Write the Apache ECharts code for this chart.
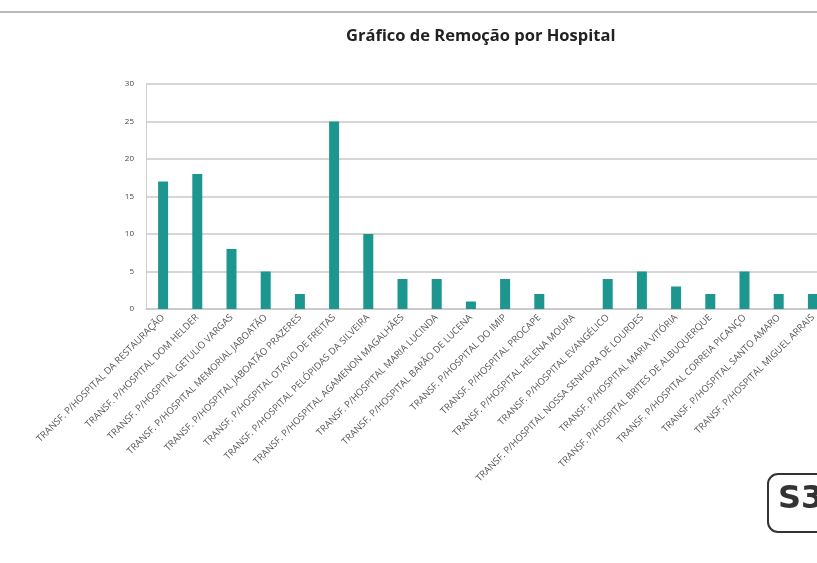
<!DOCTYPE html>
<html>
<head>
<meta charset="utf-8">
<script src="https://cdn.jsdelivr.net/npm/echarts@6/dist/echarts.min.js"></script>
<style>
  html, body { margin: 0; padding: 0; background: #fff; }
  #chart { width: 817px; height: 563px; }
</style>
</head>
<body>
<div id="chart"></div>
<script>
const hospitals = [
  'TRANSF. P/HOSPITAL DA RESTAURAÇÃO',
  'TRANSF. P/HOSPITAL DOM HELDER',
  'TRANSF. P/HOSPITAL GETULIO VARGAS',
  'TRANSF. P/HOSPITAL MEMORIAL JABOATÃO',
  'TRANSF. P/HOSPITAL JABOATÃO PRAZERES',
  'TRANSF. P/HOSPITAL OTAVIO DE FREITAS',
  'TRANSF. P/HOSPITAL PELÓPIDAS DA SILVEIRA',
  'TRANSF. P/HOSPITAL AGAMENON MAGALHÃES',
  'TRANSF. P/HOSPITAL MARIA LUCINDA',
  'TRANSF. P/HOSPITAL BARÃO DE LUCENA',
  'TRANSF. P/HOSPITAL DO IMIP',
  'TRANSF. P/HOSPITAL PROCAPE',
  'TRANSF. P/HOSPITAL HELENA MOURA',
  'TRANSF. P/HOSPITAL EVANGÉLICO',
  'TRANSF. P/HOSPITAL NOSSA SENHORA DE LOURDES',
  'TRANSF. P/HOSPITAL MARIA VITÓRIA',
  'TRANSF. P/HOSPITAL BRITES DE ALBUQUERQUE',
  'TRANSF. P/HOSPITAL CORREIA PICANÇO',
  'TRANSF. P/HOSPITAL SANTO AMARO',
  'TRANSF. P/HOSPITAL MIGUEL ARRAIS'
];
const remocoes = [17, 18, 8, 5, 2, 25, 10, 4, 4, 1, 4, 2, 0, 4, 5, 3, 2, 5, 2, 2];

let chart = echarts.init(document.getElementById('chart'));

let option = {
    animation: false,
    title: {
        text: 'Gráfico de Remoção por Hospital',
        left: 341,
        top: 23,
        textStyle: {
            fontFamily: 'Open Sans',
            fontSize: 16.5,
            fontWeight: 'bold',
            color: '#222'
        }
    },
    graphic: [
        {
            type: 'line',
            shape: { x1: 0, y1: 12, x2: 817, y2: 12 },
            style: { stroke: '#bbb', lineWidth: 2 }
        },
        // logo no canto inferior direito
        {
            type: 'rect',
            shape: { x: 768, y: 474, width: 64, height: 58, r: 10 },
            style: { fill: 'none', stroke: '#333', lineWidth: 2 }
        },
        {
            type: 'text',
            left: 778,
            top: 484,
            style: { text: 'S3', fontSize: 32, fontWeight: 'bold', fill: '#333', fontFamily: 'DejaVu Sans' }
        }
    ],
    grid: {
        left: 146,
        right: -13,
        top: 84,
        bottom: 254,
        outerBoundsMode: 'none'
    },
    xAxis: {
        type: 'category',
        data: hospitals,
        axisTick: { show: false },
        axisLine: { lineStyle: { color: '#c8c8c8', width: 1.5 } },
        axisLabel: {
            interval: 0,
            rotate: 45,
            fontSize: 9.5,
            color: '#555',
            fontFamily: 'Open Sans',
            margin: 7
        }
    },
    yAxis: {
        type: 'value',
        min: 0,
        max: 30,
        interval: 5,
        axisLine: { show: true, lineStyle: { color: '#d0d0d0' } },
        axisTick: { show: false },
        splitLine: { lineStyle: { color: '#c8c8c8', width: 1.5 } },
        axisLabel: {
            fontSize: 8,
            color: '#444',
            fontFamily: 'Open Sans',
            margin: 12
        }
    },
    series: [
        {
            name: 'Remoções',
            type: 'bar',
            data: remocoes,
            barWidth: 10,
            itemStyle: { color: '#1e9690' }
        }
    ]
};

chart.setOption(option);
</script>
</body>
</html>
